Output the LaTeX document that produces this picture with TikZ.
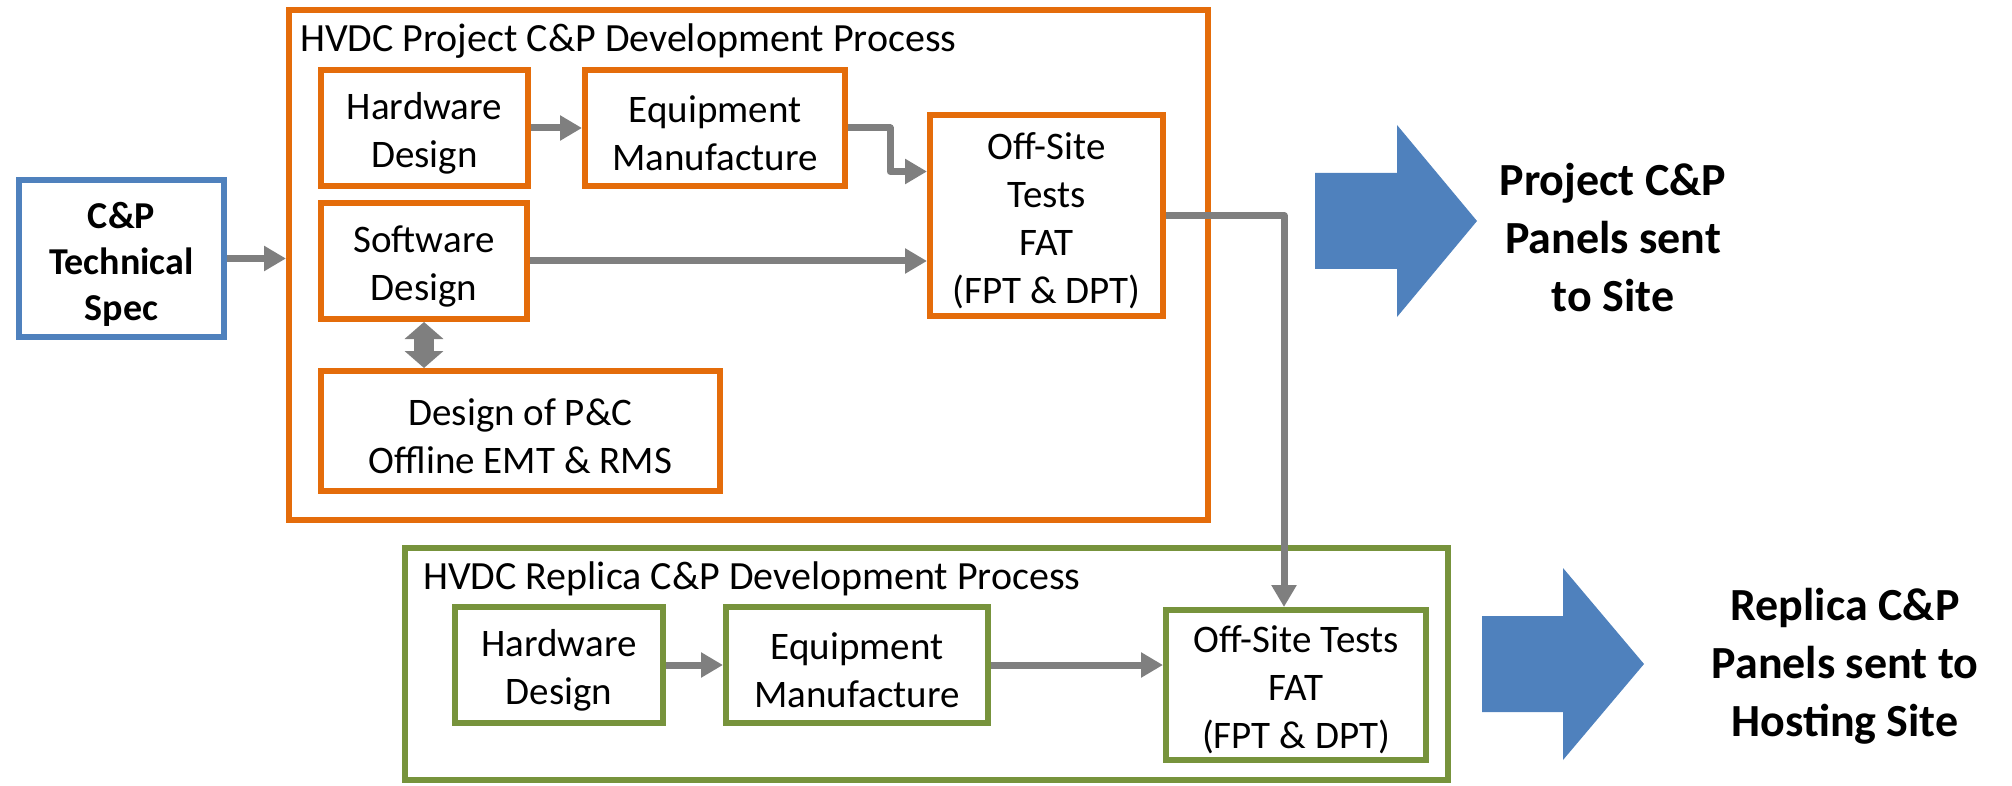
\documentclass[tikz,border=0pt]{standalone}
\usepackage{fontspec}
\setmainfont{Carlito}
\usetikzlibrary{arrows.meta,calc}
\definecolor{orng}{HTML}{E46C0A}
\definecolor{grn}{HTML}{77933C}
\definecolor{blu}{HTML}{4F81BD}
\definecolor{gry}{HTML}{7F7F7F}
\newcommand\tallstrut{\rule{0pt}{37pt}}
\begin{document}
\begin{tikzpicture}[x=1pt,y=-1pt,
  box/.style={draw,line width=6pt,rectangle,inner sep=0pt,outer sep=3pt,align=center,
    font=\fontsize{39}{48}\selectfont},
  frame/.style={draw,line width=6pt,rectangle,inner sep=0pt,outer sep=3pt},
  pbox/.style={box,draw=orng},
  gbox/.style={box,draw=grn},
  conn/.style={draw=gry,line width=7pt,line join=round,-{Triangle[length=22pt,width=24pt]}},
  dbl/.style={draw=gry,line width=20pt,{Triangle[length=17pt,width=38pt]}-{Triangle[length=17pt,width=38pt]}},
  title/.style={anchor=base west,inner sep=0pt,font=\fontsize{40}{48}\selectfont},
  outtext/.style={align=center,inner sep=0pt,font=\fontsize{46}{58}\selectfont\bfseries},
  bigarrow/.style={fill=blu,draw=none}
]
\useasboundingbox (0,0) rectangle (2012,786);

% outer process frames
\node[frame,draw=orng,minimum width=919pt,minimum height=510pt] (outerP) at (748.5,265) {};
\node[frame,draw=grn,minimum width=1043pt,minimum height=232pt] (outerR) at (926.5,664) {};
\node[title] (titleP) at (300,52) {HVDC Project C\&P Development Process};
\node[title] (titleR) at (423,589) {HVDC Replica C\&P Development Process};

% spec
\node[box,draw=blu,minimum width=205pt,minimum height=157pt,font=\fontsize{38}{46}\selectfont\bfseries] (spec) at (121.5,258.5) {\tallstrut C\&P\\Technical\\Spec};

% project boxes
\node[pbox,minimum width=207pt,minimum height=116pt] (hwP) at (424.5,128) {\tallstrut Hardware\\Design};
\node[pbox,minimum width=260pt,minimum height=116pt] (eqP) at (715,128) {\tallstrut Equipment\\Manufacture};
\node[pbox,minimum width=233pt,minimum height=201pt] (osP) at (1046.5,215.5) {\tallstrut Off-Site\\Tests\\FAT\\(FPT \& DPT)};
\node[pbox,minimum width=206pt,minimum height=116pt] (swP) at (424,261) {\tallstrut Software\\Design};
\node[pbox,minimum width=399pt,minimum height=120pt] (pcP) at (520.5,431) {\tallstrut Design of P\&C\\Offline EMT \& RMS};

% replica boxes
\node[gbox,minimum width=208pt,minimum height=116pt] (hwR) at (559,665) {\tallstrut Hardware\\Design};
\node[gbox,minimum width=262pt,minimum height=116pt] (eqR) at (857,665) {\tallstrut Equipment\\Manufacture};
\node[gbox,minimum width=260pt,minimum height=150pt] (osR) at (1296,685) {\tallstrut Off-Site Tests\\FAT\\(FPT \& DPT)};

% connectors
\draw[conn] (spec.east) -- (spec.east -| outerP.west);
\draw[conn] (hwP.east) -- (eqP.west);
\coordinate (eqbend) at ($(eqP.east)+(42,0)$);
\coordinate (osin) at ($(osP.west)+(0,-44)$);
\draw[conn] (eqP.east) -- (eqbend) |- (osin);
\draw[conn] (swP.east) -- (swP.east -| osP.west);
\coordinate (osbend) at ($(osP.east -| 1284,0)$);
\draw[conn] (osP.east) -- (osbend) -- (osbend |- osR.north);
\draw[dbl] (swP.south) -- (swP.south |- pcP.north);
\draw[conn] (hwR.east) -- (eqR.west);
\draw[conn] (eqR.east) -- (eqR.east -| osR.west);

% big arrows
\path[bigarrow] (1315,173) -- (1397,173) -- (1397,125) -- (1477,221) -- (1397,317) -- (1397,269) -- (1315,269) -- cycle;
\path[bigarrow] (1482,616) -- (1563,616) -- (1563,568) -- (1644,664) -- (1563,760) -- (1563,712) -- (1482,712) -- cycle;

\node[outtext] (outP) at (1613,238) {Project C\&P\\Panels sent\\to Site};
\node[outtext] (outR) at (1845,666) {Replica C\&P\\Panels sent to\\Hosting Site};
\end{tikzpicture}
\end{document}
